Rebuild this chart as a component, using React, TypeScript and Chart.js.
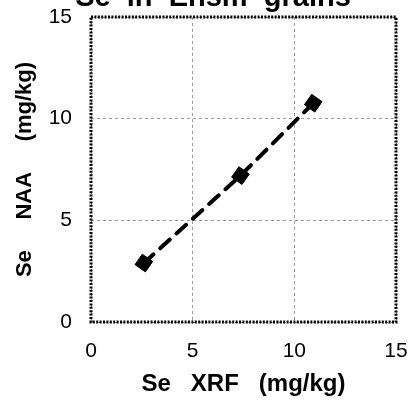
import React, { useEffect, useRef } from "react";
import { Chart, registerables } from "chart.js";

Chart.register(...registerables);

// Se measured by XRF vs. NAA (mg/kg)
const seXrf = [2.6, 7.35, 10.93];
const seNaa = [2.9, 7.2, 10.76];
const xTicks = [0, 5, 10, 15];
const yTicks = [0, 5, 10, 15];
const chartTitle = "Se  in  Ensm  grains";
const xTitle = "Se   XRF   (mg/kg)";
const yTitle = "Se     NAA     (mg/kg)";

const FONT = "'Liberation Sans', Arial, Helvetica, sans-serif";

// dotted black frame around the plot area
const framePlugin = {
  id: "frame",
  beforeDatasetsDraw(chart: any) {
    const { ctx, chartArea: a } = chart;
    ctx.save();
    ctx.strokeStyle = "#000";
    ctx.lineWidth = 3;
    ctx.setLineDash([2, 1.4]);
    ctx.strokeRect(a.left, a.top, a.right - a.left, a.bottom - a.top);
    ctx.restore();
  },
};

// heading placed above the plot, partly off the top edge
const headingPlugin = {
  id: "heading",
  afterDraw(chart: any) {
    const { ctx } = chart;
    ctx.save();
    ctx.fillStyle = "#000";
    ctx.font = `bold 29px ${FONT}`;
    ctx.textAlign = "center";
    ctx.textBaseline = "alphabetic";
    ctx.fillText(chartTitle, 213, 6);
    ctx.restore();
  },
};

const fixX = (s: any) => {
  s.height = 81;
  s.paddingLeft = 0;
  s.paddingRight = 0;
};
const fixY = (s: any) => {
  s.width = 91;
  s.paddingTop = 0;
  s.paddingBottom = 0;
};

export default function App() {
  const ref = useRef<HTMLCanvasElement>(null);

  useEffect(() => {
    if (!ref.current) return;
    const chart = new Chart(ref.current, {
      type: "scatter",
      data: {
        datasets: [
          {
            data: seXrf.map((x, i) => ({ x, y: seNaa[i] })),
            showLine: true,
            borderColor: "#000",
            borderWidth: 4,
            borderDash: [13, 9],
            borderCapStyle: "round",
            backgroundColor: "#000",
            pointStyle: "rect",
            rotation: 35,
            pointRadius: 9,
            pointBackgroundColor: "#000",
            pointBorderColor: "#000",
            pointBorderWidth: 1,
          },
        ],
      },
      options: {
        responsive: false,
        animation: false,
        layout: { padding: { top: 17, right: 15, left: 0, bottom: 0 } },
        plugins: {
          legend: { display: false },
          tooltip: { enabled: false },
          title: { display: false },
        },
        scales: {
          x: {
            type: "linear",
            min: 0,
            max: 15,
            afterFit: fixX,
            afterBuildTicks: (s: any) => {
              s.ticks = xTicks.map((v) => ({ value: v }));
            },
            ticks: {
              color: "#000",
              padding: 17,
              font: { family: FONT, size: 21 },
            },
            grid: { color: "#9a9a9a", lineWidth: 1, drawTicks: false },
            border: { display: false, dash: [3, 3] },
            title: {
              display: true,
              text: xTitle,
              color: "#000",
              font: { family: FONT, size: 24, weight: "bold" },
              padding: { top: 0, bottom: 4 },
            },
          },
          y: {
            type: "linear",
            min: 0,
            max: 15,
            afterFit: fixY,
            afterBuildTicks: (s: any) => {
              s.ticks = yTicks.map((v) => ({ value: v }));
            },
            ticks: {
              color: "#000",
              padding: 19,
              font: { family: FONT, size: 21 },
            },
            grid: { color: "#9a9a9a", lineWidth: 1, drawTicks: false },
            border: { display: false, dash: [3, 3] },
            title: {
              display: true,
              text: yTitle,
              color: "#000",
              font: { family: FONT, size: 22, weight: "bold" },
              padding: { top: 12, bottom: 0 },
            },
          },
        },
      },
      plugins: [framePlugin, headingPlugin],
    } as any);
    return () => chart.destroy();
  }, []);

  return (
    <div
      style={{
        position: "fixed",
        left: 0,
        top: 0,
        width: 411,
        height: 403,
        background: "#fff",
      }}
    >
      <canvas ref={ref} width={411} height={403} />
    </div>
  );
}
